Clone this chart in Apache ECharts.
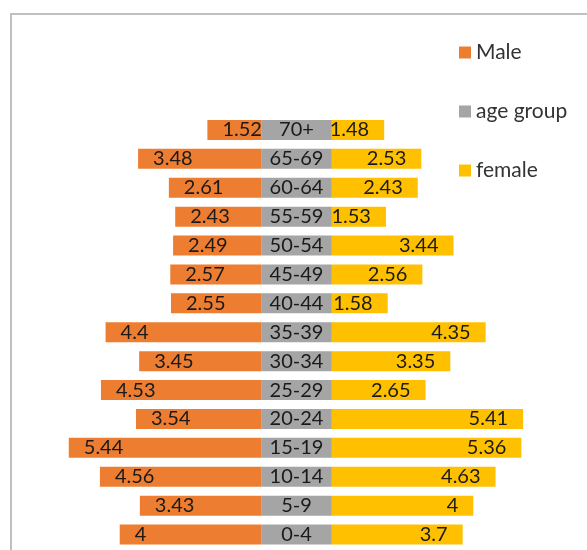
<!DOCTYPE html>
<html>
<head>
<meta charset="utf-8">
<script src="https://cdn.jsdelivr.net/npm/echarts@6/dist/echarts.min.js"></script>
<style>
  html, body { margin: 0; padding: 0; background: #fff; }
  #main { width: 587px; height: 550px; }
</style>
</head>
<body>
<div id="main"></div>
<script>
// bottom to top, like the picture
var ageGroups = ['0-4', '5-9', '10-14', '15-19', '20-24', '25-29', '30-34', '35-39',
                 '40-44', '45-49', '50-54', '55-59', '60-64', '65-69', '70+'];
var male   = [4, 3.43, 4.56, 5.44, 3.54, 4.53, 3.45, 4.4, 2.55, 2.57, 2.49, 2.43, 2.61, 3.48, 1.52];
var female = [3.7, 4, 4.63, 5.36, 5.41, 2.65, 3.35, 4.35, 1.58, 2.56, 3.44, 1.53, 2.43, 2.53, 1.48];
var ageBand = [2, 2, 2, 2, 2, 2, 2, 2, 2, 2, 2, 2, 2, 2, 2];

var labelFont = { fontFamily: 'Lato', fontSize: 20, color: '#1a1a1a' };

var chart = echarts.init(document.getElementById('main'));
chart.setOption({
    animation: false,
    textStyle: { fontFamily: 'Lato' },
    graphic: [{
        type: 'polyline',
        shape: { points: [[11, 550], [11, 14], [587, 14]] },
        style: { stroke: '#c0c0c0', lineWidth: 2, fill: null }
    }],
    legend: {
        orient: 'vertical',
        left: 459,
        top: 42,
        padding: 0,
        itemWidth: 12,
        itemHeight: 12,
        itemGap: 38,
        icon: 'rect',
        textStyle: { fontFamily: 'Lato', fontSize: 21, color: '#333', lineHeight: 21 },
        data: ['Male', 'age group', 'female']
    },
    grid: { left: 49, right: 43, top: 115.5, bottom: 1 },
    xAxis: {
        type: 'value', min: -6, max: 8, show: false,
        splitLine: { show: false }
    },
    yAxis: {
        type: 'category', data: ageGroups, show: false
    },
    series: [{
        name: 'Male', type: 'bar', stack: 'p', barWidth: 20,
        itemStyle: { color: '#ED7D31' },
        data: male.map(function (v) { return -v; }),
        label: Object.assign({
            show: true, position: 'insideLeft', distance: 15,
            formatter: function (p) { return String(-p.value); }
        }, labelFont)
    }, {
        name: 'age group', type: 'bar', stack: 'p', barWidth: 20,
        itemStyle: { color: '#A5A5A5' },
        data: ageBand,
        label: Object.assign({
            show: true, position: 'inside',
            formatter: function (p) { return p.name; }
        }, labelFont)
    }, {
        name: 'female', type: 'bar', stack: 'p', barWidth: 20,
        itemStyle: { color: '#FFC000' },
        data: female,
        label: Object.assign({
            show: true, position: 'insideRight', distance: 15
        }, labelFont)
    }]
});
</script>
</body>
</html>
